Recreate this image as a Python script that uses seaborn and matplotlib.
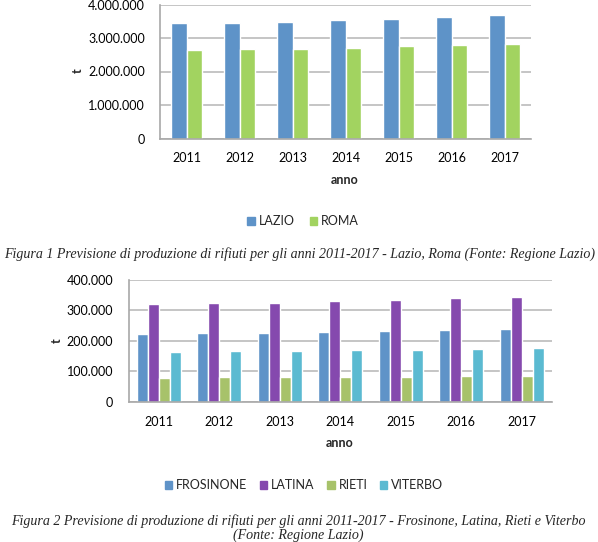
import pandas as pd
import matplotlib.pyplot as plt
import seaborn as sns
from matplotlib.ticker import FuncFormatter, MultipleLocator
from matplotlib.patches import Patch

anni = ['2011', '2012', '2013', '2014', '2015', '2016', '2017']

lazio = [3440000, 3440000, 3470000, 3530000, 3560000, 3620000, 3680000]
roma = [2640000, 2670000, 2670000, 2700000, 2760000, 2790000, 2820000]

frosinone = [222000, 226000, 226000, 229000, 232000, 236000, 239000]
latina = [321000, 324000, 324000, 331000, 334000, 341000, 344000]
rieti = [78000, 81000, 81000, 81000, 81000, 84000, 84000]
viterbo = [163000, 167000, 167000, 170000, 170000, 173000, 176000]

colori1 = {'LAZIO': '#5E93C8', 'ROMA': '#A2D360'}
colori2 = {'FROSINONE': '#5F93C8', 'LATINA': '#8549AE', 'RIETI': '#A7C26A', 'VITERBO': '#5BBAD1'}

sns.set_style('white')
plt.rcParams['font.family'] = ['Lato', 'DejaVu Sans']

def fmt(v, pos):
    return f'{int(round(v)):,}'.replace(',', '.')

df1 = pd.DataFrame({'anno': anni, 'LAZIO': lazio, 'ROMA': roma})
df1 = df1.melt(id_vars='anno', var_name='zona', value_name='t')
df2 = pd.DataFrame({'anno': anni, 'FROSINONE': frosinone, 'LATINA': latina,
                    'RIETI': rieti, 'VITERBO': viterbo})
df2 = df2.melt(id_vars='anno', var_name='zona', value_name='t')

W, H = 598, 542
fig = plt.figure(figsize=(W / 100, H / 100), dpi=100)
ax1 = fig.add_axes([160 / W, 1 - 138.5 / H, (531 - 160) / W, (138.5 - 4.5) / H])
ax2 = fig.add_axes([128.5 / W, 1 - 401.7 / H, (552 - 128.5) / W, (401.7 - 280) / H])

fs = 9

def stile(ax, top, step):
    ax.set_ylim(0, top)
    ax.yaxis.set_major_locator(MultipleLocator(step))
    ax.yaxis.set_major_formatter(FuncFormatter(fmt))
    ax.grid(axis='y', color='#C0C0C0', lw=1.3)
    ax.set_axisbelow(True)
    for s in ['top', 'right']:
        ax.spines[s].set_visible(False)
    for s in ['left', 'bottom']:
        ax.spines[s].set_color('#A8A8A8')
        ax.spines[s].set_linewidth(1.2)
    ax.tick_params(axis='y', length=3, color='#A8A8A8', pad=8, labelsize=fs, labelcolor='black')
    ax.tick_params(axis='x', length=0, pad=10, labelsize=fs, labelcolor='black')
    ax.set_xlabel('')
    ax.set_ylabel('')
    ax.legend_.remove()

sns.barplot(data=df1, x='anno', y='t', hue='zona', palette=colori1,
            width=0.57, saturation=1, ax=ax1)
stile(ax1, 4000000, 1000000)
sns.barplot(data=df2, x='anno', y='t', hue='zona', palette=colori2,
            width=0.73, saturation=1, ax=ax2)
stile(ax2, 400000, 100000)

fig.text(345 / W, 1 - 180 / H, 'anno', ha='center', va='center', fontsize=fs, weight='bold')
fig.text(78 / W, 1 - 71 / H, 't', ha='center', va='center', fontsize=fs, weight='bold', rotation=90)
fig.text(340 / W, 1 - 443 / H, 'anno', ha='center', va='center', fontsize=fs, weight='bold')
fig.text(57 / W, 1 - 341 / H, 't', ha='center', va='center', fontsize=fs, weight='bold', rotation=90)

h1 = [Patch(color=c) for c in colori1.values()]
fig.legend(h1, list(colori1.keys()), loc='center', bbox_to_anchor=(303 / W, 1 - 221 / H),
           ncol=2, frameon=False, fontsize=fs, handlelength=0.6, handleheight=0.6,
           handletextpad=0.3, columnspacing=1.2)
h2 = [Patch(color=c) for c in colori2.values()]
fig.legend(h2, list(colori2.keys()), loc='center', bbox_to_anchor=(304 / W, 1 - 485 / H),
           ncol=4, frameon=False, fontsize=fs, handlelength=0.6, handleheight=0.6,
           handletextpad=0.3, columnspacing=1.0)

cap = dict(ha='center', va='center', fontsize=10.1, style='italic', family='Liberation Serif')
fig.text(300 / W, 1 - 254 / H,
         'Figura 1 Previsione di produzione di rifiuti per gli anni 2011-2017 - Lazio, Roma (Fonte: Regione Lazio)', **cap)
fig.text(298 / W, 1 - 521 / H,
         'Figura 2 Previsione di produzione di rifiuti per gli anni 2011-2017 - Frosinone, Latina, Rieti e Viterbo', **cap)
fig.text(298 / W, 1 - 535 / H, '(Fonte: Regione Lazio)', **cap)

fig.savefig('out.png', dpi=100)
